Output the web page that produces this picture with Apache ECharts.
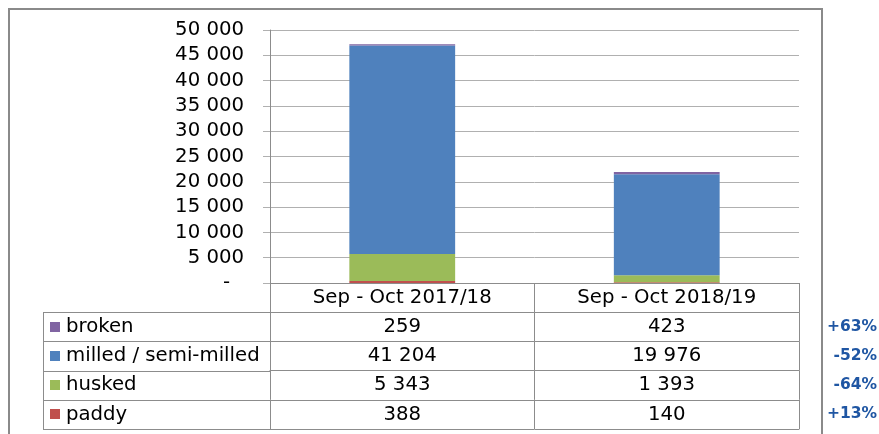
<!DOCTYPE html>
<html><head><meta charset="utf-8">
<script src="https://cdn.jsdelivr.net/npm/echarts@6/dist/echarts.min.js"></script>
<style>html,body{margin:0;padding:0;background:#fff}#c{width:879px;height:434px}</style>
</head><body><div id="c"></div>
<script>
const categories = ['Sep - Oct 2017/18', 'Sep - Oct 2018/19'];
const seriesNames = ['paddy', 'husked', 'milled / semi-milled', 'broken'];
const paddy = [388, 140];
const husked = [5343, 1393];
const milled = [41204, 19976];
const broken = [259, 423];
const colors = ['#c0504d', '#9bbb59', '#4f81bd', '#8064a2'];
const tableOrder = ['broken', 'milled / semi-milled', 'husked', 'paddy'];
const changes = ['+63%', '-52%', '-64%', '+13%'];
const yTicks = { min: 0, max: 50000, interval: 5000 };

const FONT = 'DejaVu Sans';
const FS = 19.7;
const rowH = 29.2;
const valuesByName = { 'paddy': paddy, 'husked': husked, 'milled / semi-milled': milled, 'broken': broken };
const colorByName = {}; seriesNames.forEach((n, i) => colorByName[n] = colors[i]);
const fmt = v => v === 0 ? '-' : String(v).replace(/\B(?=(\d{3})+(?!\d))/g, ' ');

const gridLeft = 270, gridRight = 80, gridTop = 30, gridBottom = 151;
const W = 879, H = 434;
const axisY = H - gridBottom;

const xAxes = [{
  type: 'category', data: categories, position: 'bottom', gridIndex: 0,
  axisLine: { lineStyle: { color: '#8c8c8c', width: 1 } },
  axisTick: { show: true, length: rowH, lineStyle: { color: '#8c8c8c' } },
  axisLabel: { fontFamily: FONT, fontSize: FS, color: '#000', margin: 0, lineHeight: rowH, interval: 0 }
}];
tableOrder.forEach((name, k) => {
  xAxes.push({
    type: 'category', data: valuesByName[name].map(fmt), position: 'bottom', gridIndex: 0,
    offset: rowH * (k + 1),
    axisLine: { show: true, lineStyle: { color: '#8c8c8c', width: 1 } },
    axisTick: { show: true, length: rowH, lineStyle: { color: '#8c8c8c' } },
    axisLabel: { fontFamily: FONT, fontSize: FS, color: '#000', margin: 0, lineHeight: rowH, interval: 0 },
    splitLine: { show: false }
  });
});
xAxes.push({
  type: 'category', data: categories, position: 'bottom', gridIndex: 0,
  offset: rowH * 5,
  axisLine: { show: true, lineStyle: { color: '#8c8c8c', width: 1 } },
  axisTick: { show: false }, axisLabel: { show: false }, splitLine: { show: false }
});

const graphics = [];
// outer frame
graphics.push({ type: 'polyline', shape: { points: [[9, H + 5], [9, 9], [822, 9], [822, H + 5]] },
  style: { stroke: '#8a8a8a', lineWidth: 2, fill: null }, silent: true });
// label column
const tableTop = axisY + rowH;
for (let k = 0; k <= tableOrder.length; k++) {
  const y = Math.round(tableTop + rowH * k) + 0.5;
  graphics.push({ type: 'line', shape: { x1: 43, y1: y, x2: gridLeft, y2: y }, style: { stroke: '#8c8c8c', lineWidth: 1 }, silent: true });
}
graphics.push({ type: 'line', shape: { x1: 43.5, y1: tableTop, x2: 43.5, y2: tableTop + rowH * tableOrder.length },
  style: { stroke: '#8c8c8c', lineWidth: 1 }, silent: true });
tableOrder.forEach((name, k) => {
  const cy = tableTop + rowH * k + rowH / 2;
  graphics.push({ type: 'rect', shape: { x: 50, y: Math.round(cy - 5), width: 10, height: 10 }, style: { fill: colorByName[name] }, silent: true });
  graphics.push({ type: 'text', x: 66, y: cy, style: { text: name, fontFamily: FONT, fontSize: FS, fill: '#000', verticalAlign: 'middle', align: 'left' }, silent: true });
  graphics.push({ type: 'text', x: 877, y: cy, style: { text: changes[k], fontFamily: FONT, fontSize: 15.5, fontWeight: 'bold', fill: '#1f56a3', verticalAlign: 'middle', align: 'right' }, silent: true });
});

const option = {
  animation: false,
  backgroundColor: '#fff',
  grid: { left: gridLeft, right: gridRight, top: gridTop, bottom: gridBottom, containLabel: false },
  xAxis: xAxes,
  yAxis: {
    type: 'value', min: yTicks.min, max: yTicks.max, interval: yTicks.interval,
    axisLine: { show: true, lineStyle: { color: '#8c8c8c' } },
    axisTick: { show: true, length: 7, lineStyle: { color: '#b0b0b0' } },
    splitLine: { lineStyle: { color: '#b0b0b0', width: 1 } },
    axisLabel: {
      fontFamily: FONT, fontSize: FS, color: '#000', margin: 26,
      formatter: v => v === 0 ? '{z|-}' : fmt(v),
      rich: { z: { fontFamily: FONT, fontSize: FS, color: '#000', padding: [0, 14, 0, 0] } }
    }
  },
  graphic: graphics,
  series: seriesNames.map((n, i) => ({
    name: n, type: 'bar', stack: 'total', xAxisIndex: 0, data: valuesByName[n],
    barWidth: '40%', itemStyle: { color: colors[i] }
  }))
};
const chart = echarts.init(document.getElementById('c'), null, { renderer: 'canvas' });
chart.setOption(option);
</script></body></html>
